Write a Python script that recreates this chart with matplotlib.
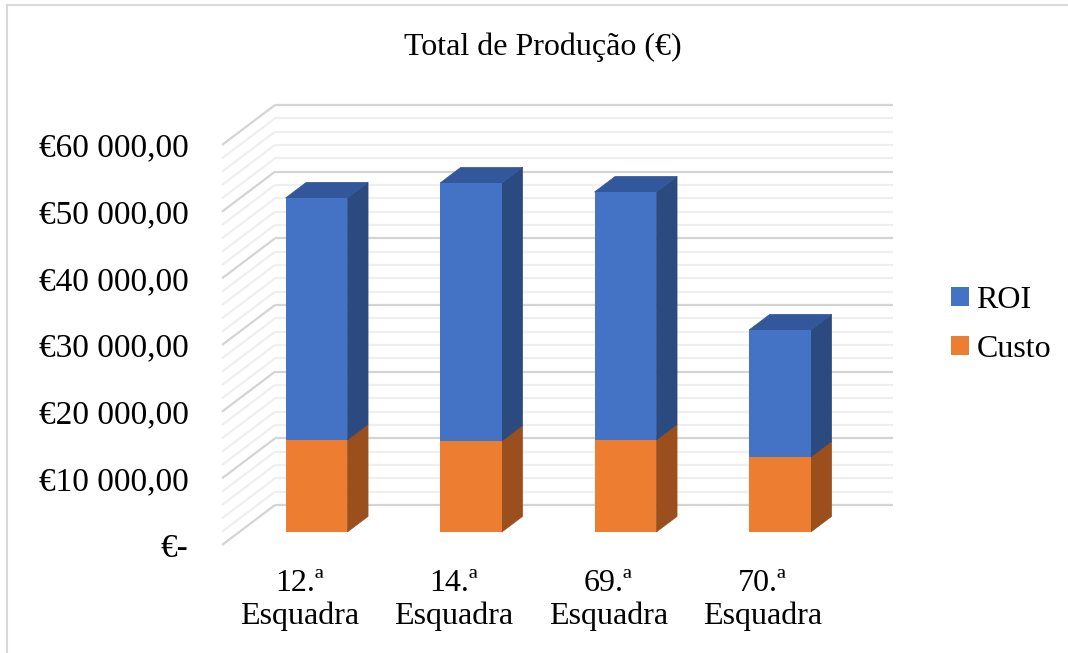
import matplotlib
matplotlib.use("Agg")
import matplotlib.pyplot as plt
from matplotlib.patches import Polygon, Patch
from matplotlib.lines import Line2D
import numpy as np

plt.rcParams['font.family'] = ['Liberation Serif', 'DejaVu Serif']

# ---- data ----
categories = ["12.ª\nEsquadra", "14.ª\nEsquadra", "69.ª\nEsquadra", "70.ª\nEsquadra"]
custo = [13800, 13650, 13800, 11250]
roi = [36300, 38700, 37200, 19050]
y_ticks = [0, 10000, 20000, 30000, 40000, 50000, 60000]
y_labels = ["€-", "€10 000,00", "€20 000,00", "€30 000,00", "€40 000,00", "€50 000,00", "€60 000,00"]
title = "Total de Produção (€)"
series_names = ["ROI", "Custo"]

# ---- style ----
W, H = 1068, 653
fig = plt.figure(figsize=(W / 100, H / 100), dpi=100)
ax = fig.add_axes([222 / W, 108 / H, 618 / W, 400 / H])
ax.set_xlim(0, 4)
ax.set_ylim(0, 60000)

# oblique depth projection (data units for full depth)
DX = 53 / 618 * 4
DY = 40 / 400 * 60000

blue, blue_side, blue_top = "#4472C4", "#2B4A80", "#32579A"
orange, orange_side, orange_top = "#ED7D31", "#9A4F1D", "#B25D23"

# gridlines: back wall and left wall
for v in range(0, 60001, 2000):
    major = v % 10000 == 0
    c = "#D4D4D4" if major else "#EFEFEF"
    lw = 1.6
    ax.plot([DX, 4 + DX], [v + DY, v + DY], color=c, lw=lw, zorder=1 if major else 0.5,
            clip_on=False, solid_capstyle='butt')
    ax.plot([0, DX], [v, v + DY], color=c, lw=lw, zorder=1 if major else 0.5,
            clip_on=False, solid_capstyle='butt')

# bars
d0, dd = 0.325, 0.39
bw = 0.4
x = np.arange(len(categories)) + 0.5
xf = x + d0 * DX
yoff = d0 * DY
sdx, sdy = dd * DX, dd * DY

for i in range(len(categories)):
    xl, xr = xf[i] - bw / 2, xf[i] + bw / 2
    segs = [(0, custo[i], orange, orange_side, orange_top),
            (custo[i], custo[i] + roi[i], blue, blue_side, blue_top)]
    for (b, t, fc, sc, tc) in segs:
        side = Polygon([(xr, b + yoff), (xr + sdx, b + yoff + sdy),
                        (xr + sdx, t + yoff + sdy), (xr, t + yoff)],
                       closed=True, facecolor=sc, edgecolor=sc, lw=0.5, zorder=3, clip_on=False)
        ax.add_patch(side)
    top = custo[i] + roi[i]
    tp = Polygon([(xl, top + yoff), (xl + sdx, top + yoff + sdy),
                  (xr + sdx, top + yoff + sdy), (xr, top + yoff)],
                 closed=True, facecolor=blue_top, edgecolor=blue_top, lw=0.5, zorder=3, clip_on=False)
    ax.add_patch(tp)

ax.bar(xf, custo, width=bw, bottom=yoff, color=orange, zorder=4, clip_on=False)
ax.bar(xf, roi, width=bw, bottom=np.array(custo) + yoff, color=blue, zorder=4, clip_on=False)

# axes appearance
for s in ax.spines.values():
    s.set_visible(False)
ax.set_yticks(y_ticks)
ax.set_yticklabels(y_labels, fontsize=24)
ax.set_xticks(x)
ax.set_xticklabels(categories, fontsize=23, linespacing=1.12)
ax.tick_params(axis='y', length=0, pad=24)
ax.tick_params(axis='x', length=0, pad=17.5)
ax.patch.set_alpha(0)

# title
fig.text(543 / W, 1 - 47 / H, title, ha='center', va='center', fontsize=23)

# legend
handles = [Patch(facecolor=blue, edgecolor='none'), Patch(facecolor=orange, edgecolor='none')]
fig.legend(handles, series_names, loc='center left', bbox_to_anchor=(935 / W, 1 - 325 / H),
           frameon=False, fontsize=23, handlelength=0.55, handleheight=0.55,
           handletextpad=0.25, labelspacing=0.62, borderpad=0)

# chart border (partially cropped)
fig.add_artist(Line2D([7 / W, 7 / W], [0, 1 - 5 / H], color="#D9D9D9", lw=1.5))
fig.add_artist(Line2D([7 / W, 1], [1 - 5 / H, 1 - 5 / H], color="#D9D9D9", lw=1.5))

fig.savefig("out.png", dpi=100)
